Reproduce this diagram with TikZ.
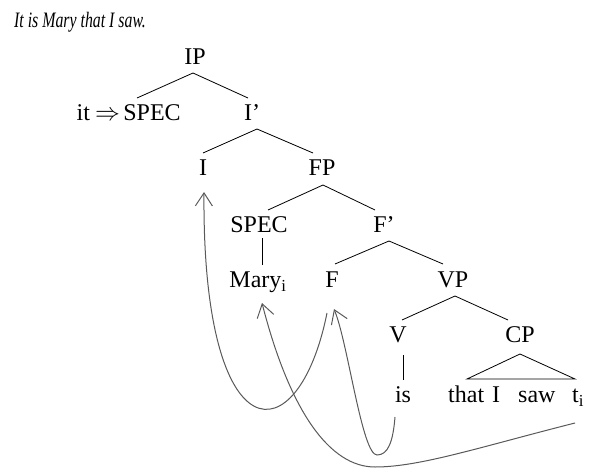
\documentclass[tikz,border=0pt]{standalone}
\usepackage{fontspec}
\setmainfont{Liberation Serif}
\usetikzlibrary{arrows.meta}
\begin{document}
\begin{tikzpicture}[x=1pt,y=1pt,
  lab/.style={font=\fontsize{24}{24}\selectfont, inner sep=0pt, text height=15.8pt, text depth=0pt},
  tree/.style={line width=0.8pt},
  mv/.style={line width=1pt, draw=black!65, -{Straight Barb[length=13pt,width=17pt]}}]
\useasboundingbox (0,0) rectangle (594,472);
\node[anchor=base west, inner sep=0pt, font=\fontsize{22}{22}\selectfont\itshape\addfontfeature{FakeStretch=0.72}] (title) at (14,444) {It is Mary that I saw.};
\node[lab] (IP) at (195,415) {IP};
\node[lab] (spec1) at (152,359) {SPEC};
\node[lab, anchor=east] (it) at ([xshift=-3pt]spec1.west) {it\hspace{5pt}$\Rightarrow$};
\node[lab] (Ibar) at (252,359) {I’};
\node[lab] (I) at (203,304) {I};
\node[lab] (FP) at (322,304) {FP};
\node[lab] (spec2) at (259,247) {SPEC};
\node[lab] (Fbar) at (384,247) {F’};
\node[lab] (Mary) at (258,192) {Mary\textsubscript{i}};
\node[lab] (F) at (332,192) {F};
\node[lab] (VP) at (453,192) {VP};
\node[lab] (V) at (398,137) {V};
\node[lab] (CP) at (520,137) {CP};
\node[lab] (is) at (403,77) {is};
\node[lab, anchor=west] (tis) at (448,77) {that\hspace{8pt}I\hspace{18pt}saw};
\node[lab] (t) at (578,77) {t\textsubscript{i}};
% tree lines
\draw[tree] ([shift={(-15,15)}]spec1.center) -- ([shift={(-2,-16)}]IP.center) -- ([shift={(-4,15)}]Ibar.center);
\draw[tree] ([shift={(0,15)}]I.center) -- ([shift={(5,-16)}]Ibar.center) -- ([shift={(-9,15)}]FP.center);
\draw[tree] ([shift={(9,15)}]spec2.center) -- ([shift={(1,-17)}]FP.center) -- ([shift={(-9,15)}]Fbar.center);
\draw[tree] ([shift={(3,-13)}]spec2.center) -- ([shift={(4,15)}]Mary.center);
\draw[tree] ([shift={(3,16)}]F.center) -- ([shift={(5,-16)}]Fbar.center) -- ([shift={(-10,16)}]VP.center);
\draw[tree] ([shift={(4,15)}]V.center) -- ([shift={(2,-16)}]VP.center) -- ([shift={(-12,15)}]CP.center);
\draw[tree] ([shift={(5,-20)}]V.center) -- ([shift={(0,15)}]is.center);
\draw[tree] ([shift={(-53,-44)}]CP.center) -- ([shift={(0,-19)}]CP.center) -- ([shift={(55,-44)}]CP.center) -- cycle;
% movement arrows
\draw[mv] ([shift={(-8,-22)}]is.center) .. controls +(-2,-25) and +(11,0) .. (377,17)
   .. controls +(-15,0) and ([shift={(16,-63)}]F.center) .. ([shift={(2,-29)}]F.center);
\draw[mv] ([shift={(-5,-33)}]F.center) .. controls (298,15) and (202,15) .. ([shift={(1,-24)}]I.center);
\draw[mv] ([shift={(-3,-28)}]t.center) .. controls (480,25) and (420,5) .. (375,5)
   .. controls (330,5) and (290,60) .. ([shift={(4,-23)}]Mary.center);
\end{tikzpicture}
\end{document}
